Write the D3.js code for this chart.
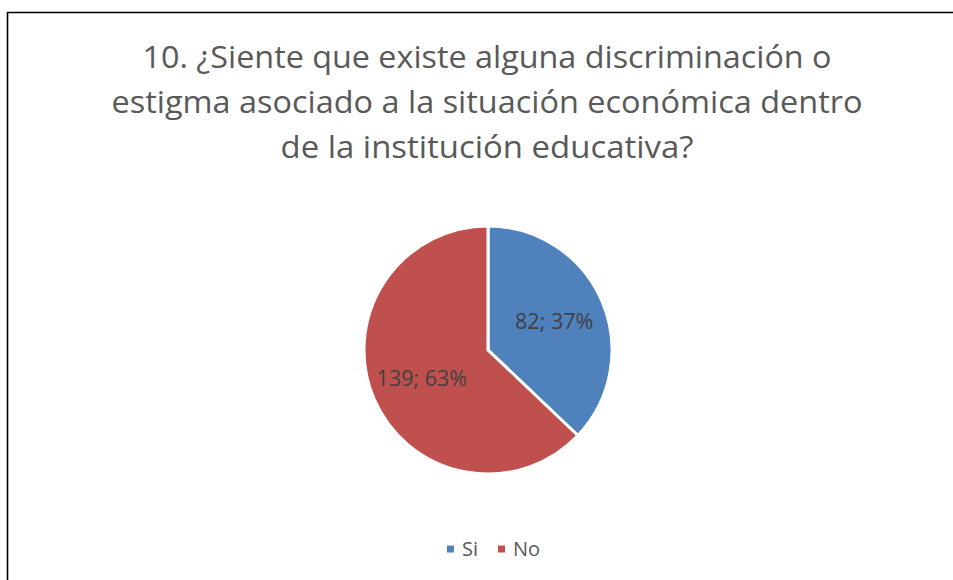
<!DOCTYPE html>
<html>
<head>
<meta charset="utf-8">
<script src="https://cdn.jsdelivr.net/npm/d3@7"></script>
<style>
  html, body { margin: 0; padding: 0; background: #ffffff; }
  svg { display: block; }
</style>
</head>
<body>
<svg id="chart" width="953" height="580"></svg>
<script>
const categories = ["Si", "No"];
const values = [82, 139];
const colors = ["#4F81BD", "#C0504D"];
const titleLines = [
  "10. ¿Siente que existe alguna discriminación o",
  "estigma asociado a la situación económica dentro",
  "de la institución educativa?"
];

const W = 953, H = 580;
const svg = d3.select("#chart");
const font = "'Open Sans', 'Liberation Sans', sans-serif";

// chart border (extends beyond right and bottom edges)
svg.append("path")
  .attr("d", `M7.5,${H} V12.5 H${W}`)
  .attr("fill", "none")
  .attr("stroke", "#000")
  .attr("stroke-width", 1.6);

// title
const titleWidths = [689, 751, 413];
const titleBaselines = [68, 113, 158];
svg.append("g").selectAll("text")
  .data(titleLines)
  .join("text")
  .attr("x", 487)
  .attr("y", (d, i) => titleBaselines[i])
  .attr("text-anchor", "middle")
  .attr("font-family", font)
  .attr("font-size", 31)
  .attr("fill", "#595959")
  .attr("textLength", (d, i) => titleWidths[i])
  .attr("lengthAdjust", "spacingAndGlyphs")
  .text(d => d);

// pie
const cx = 488, cy = 350, R = 124;
const total = d3.sum(values);
const pie = d3.pie().sort(null).startAngle(0).endAngle(2 * Math.PI);
const arcs = pie(values);
const arc = d3.arc().innerRadius(0).outerRadius(R);
const labelArc = d3.arc().innerRadius(72).outerRadius(72);

const g = svg.append("g").attr("transform", `translate(${cx},${cy})`);
g.selectAll("path")
  .data(arcs)
  .join("path")
  .attr("d", arc)
  .attr("fill", (d, i) => colors[i])
  .attr("stroke", "#fff")
  .attr("stroke-width", 3)
  .attr("stroke-linejoin", "miter");

g.selectAll("text")
  .data(arcs)
  .join("text")
  .attr("transform", d => {
    const [x, y] = labelArc.centroid(d);
    return `translate(${x},${y})`;
  })
  .attr("text-anchor", "middle")
  .attr("dy", "0.35em")
  .attr("font-family", font)
  .attr("font-size", 21.5)
  .attr("fill", "#404040")
  .text(d => `${d.data}; ${Math.round(d.data / total * 100)}%`);

// legend
const legendY = 549;
const legendItems = [
  { x: 447 },
  { x: 498 }
];
const lg = svg.append("g");
categories.forEach((c, i) => {
  lg.append("rect")
    .attr("x", legendItems[i].x)
    .attr("y", legendY - 3.5)
    .attr("width", 7)
    .attr("height", 7)
    .attr("fill", colors[i]);
  lg.append("text")
    .attr("x", legendItems[i].x + 15)
    .attr("y", legendY)
    .attr("dy", "0.35em")
    .attr("font-family", font)
    .attr("font-size", 20)
    .attr("fill", "#595959")
    .text(c);
});
</script>
</body>
</html>
